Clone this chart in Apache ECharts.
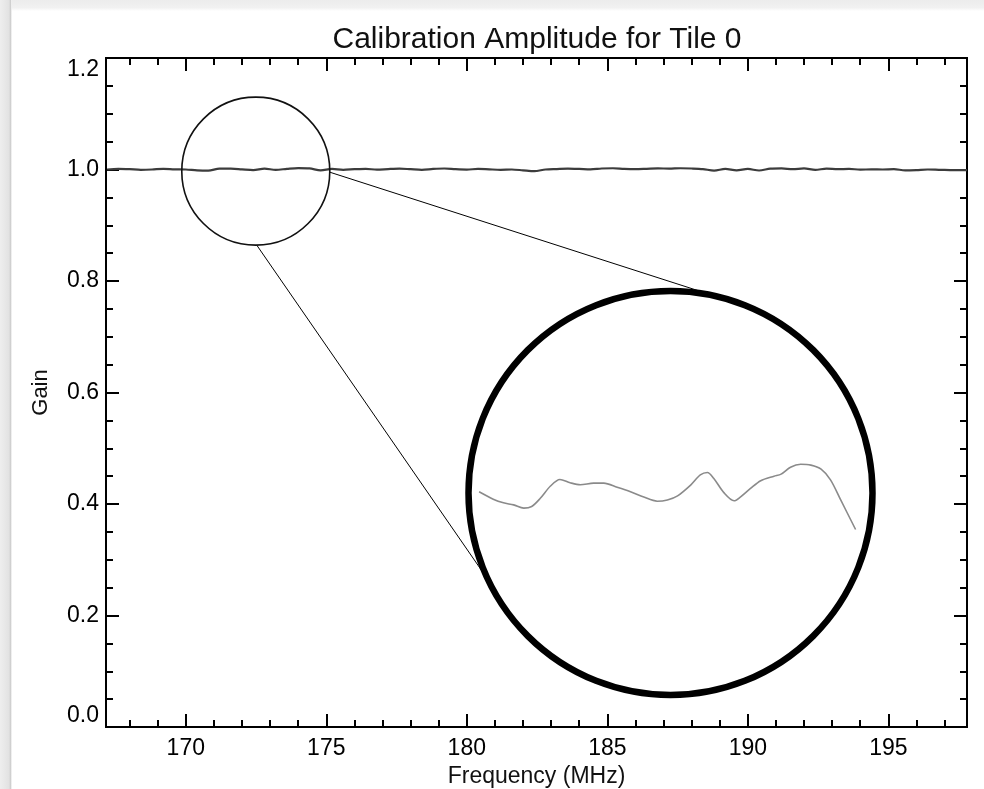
<!DOCTYPE html>
<html>
<head>
<meta charset="utf-8">
<script src="https://cdn.jsdelivr.net/npm/echarts@6/dist/echarts.min.js"></script>
<style>
html,body{margin:0;padding:0;background:#fff;}
#chart{width:984px;height:789px;}
</style>
</head>
<body>
<div id="chart"></div>
<script>
// ---- data ----
const freq = [167.2,167.6,168.0,168.4,168.8,169.2,169.6,170.0,170.4,170.8,171.2,171.6,172.0,172.4,172.8,173.2,173.6,174.0,174.4,174.8,175.2,175.6,176.0,176.4,176.8,177.2,177.6,178.0,178.4,178.8,179.2,179.6,180.0,180.4,180.8,181.2,181.6,182.0,182.4,182.8,183.2,183.6,184.0,184.4,184.8,185.2,185.6,186.0,186.4,186.8,187.2,187.6,188.0,188.4,188.8,189.2,189.6,190.0,190.4,190.8,191.2,191.6,192.0,192.4,192.8,193.2,193.6,194.0,194.4,194.8,195.2,195.6,196.0,196.4,196.8,197.2,197.6,197.8];
const gain = [1.0000,1.0010,1.0005,0.9995,1.0000,1.0012,1.0003,1.0000,0.9985,0.9980,1.0015,1.0015,1.0002,0.9990,1.0015,0.9995,1.0012,1.0025,1.0020,0.9985,1.0010,0.9995,1.0005,1.0012,0.9998,1.0008,1.0015,1.0005,0.9995,1.0010,1.0018,1.0005,0.9998,1.0010,1.0002,0.9995,1.0000,0.9985,0.9970,1.0000,1.0008,1.0015,1.0010,1.0002,1.0018,1.0022,1.0010,1.0005,1.0012,1.0020,1.0015,1.0022,1.0018,1.0008,0.9980,1.0010,0.9985,1.0010,0.9982,1.0015,1.0020,1.0005,1.0020,0.9995,1.0015,1.0005,1.0010,0.9998,1.0002,1.0000,1.0005,0.9985,0.9990,1.0000,0.9995,0.9990,0.9988,0.9990];

// zoomed-in view (inset)
const insetFreq = [170.05,170.23,170.36,170.49,170.62,170.72,170.83,170.96,171.08,171.21,171.34,171.51,171.64,171.81,171.98,172.15,172.32,172.45,172.58,172.75,172.87,172.96,173.04,173.17,173.30,173.38,173.51,173.64,173.81,173.90,174.02,174.15,174.28,174.41,174.53,174.66,174.85];
const insetGain = [1.0003,0.9985,0.9976,0.9971,0.9963,0.9967,0.9987,1.0017,1.0033,1.0025,1.0020,1.0024,1.0024,1.0014,1.0003,0.9990,0.9980,0.9983,0.9993,1.0020,1.0044,1.0050,1.0036,1.0001,0.9981,0.9990,1.0011,1.0030,1.0041,1.0046,1.0063,1.0070,1.0068,1.0058,1.0032,0.9983,0.9911];

const xMajorTicks = [170,175,180,185,190,195];
const xMinorTicks = [168,169,170,171,172,173,174,175,176,177,178,179,180,181,182,183,184,185,186,187,188,189,190,191,192,193,194,195,196,197];

const titleText = 'Calibration Amplitude for Tile 0';
const xName = 'Frequency (MHz)';
const yName = 'Gain';

// ---- chart ----
const FONT = '"Liberation Sans", Arial, Helvetica, sans-serif';
const chart = echarts.init(document.getElementById('chart'), null, {renderer:'canvas'});
const XMIN = 167.16, XMAX = 197.8;
const axisLine = {show:true, lineStyle:{color:'#000', width:2}};

function xAx(pos, ticks, len, labels){
  return {
    type:'value', gridIndex:0, position:pos, min:XMIN, max:XMAX,
    axisLine: axisLine,
    axisTick:{show:true, inside:true, length:len, customValues:ticks, lineStyle:{color:'#000', width:2}},
    axisLabel: labels ? {show:true, customValues:ticks, color:'#000', fontSize:23, fontFamily:FONT, margin:10,
      formatter: v => String(Math.round(v))} : {show:false},
    splitLine:{show:false}
  };
}
const xMain = xAx('bottom', xMajorTicks, 13, true);
xMain.name = xName; xMain.nameLocation = 'middle'; xMain.nameGap = 36;
xMain.nameTextStyle = {color:'#111', fontSize:23, fontFamily:FONT};

function yAx(pos, labels){
  return {
    type:'value', gridIndex:0, position:pos, min:0, max:1.2, interval:0.2,
    axisLine: axisLine,
    axisTick:{show:true, inside:true, length:13, lineStyle:{color:'#000', width:2}},
    minorTick:{show:true, splitNumber:4, length:7, lineStyle:{color:'#000', width:2}},
    axisLabel: labels ? {show:true, color:'#000', fontSize:23, fontFamily:FONT, margin:7,
      formatter: v => v.toFixed(1), verticalAlignMinLabel:'bottom', verticalAlignMaxLabel:'top'} : {show:false},
    splitLine:{show:false}, minorSplitLine:{show:false}
  };
}
const yMain = yAx('left', true);
yMain.name = yName; yMain.nameLocation = 'middle'; yMain.nameGap = 54;
yMain.nameTextStyle = {color:'#111', fontSize:22, fontFamily:FONT};

const option = {
  backgroundColor:'#fff',
  animation:false,
  title:{text:titleText, left:532, top:20, textAlign:'center',
    textStyle:{color:'#111', fontSize:30, fontWeight:'normal', fontFamily:FONT}},
  grid:[
    {left:106, top:58, right:17, bottom:62, containLabel:false, outerBoundsMode:'none'},
    {left:465, top:288, width:411, height:410, containLabel:false, outerBoundsMode:'none'}
  ],
  xAxis:[
    xMain,
    xAx('bottom', xMinorTicks, 7, false),
    xAx('top', xMajorTicks, 13, false),
    xAx('top', xMinorTicks, 7, false),
    {type:'value', gridIndex:1, min:169.87, max:175.11, show:false}
  ],
  yAxis:[
    yMain,
    yAx('right', false),
    {type:'value', gridIndex:1, min:0.95, max:1.05, show:false}
  ],
  series:[
    {type:'line', xAxisIndex:0, yAxisIndex:0, data:freq.map((f,i)=>[f,gain[i]]),
      showSymbol:false, smooth:0.3, lineStyle:{color:'#3c3c3c', width:2.2}, z:3},
    {type:'line', xAxisIndex:4, yAxisIndex:2, data:insetFreq.map((f,i)=>[f,insetGain[i]]),
      showSymbol:false, smooth:0.3, lineStyle:{color:'#8a8a8a', width:1.6}, z:3}
  ]
};
chart.setOption(option);

// annotation: magnifier circles and connectors
const cs = chart.convertToPixel({xAxisIndex:0, yAxisIndex:0}, [172.49, 0.997]);
const cb = chart.convertToPixel({xAxisIndex:4, yAxisIndex:2}, [172.49, 1.0]);
const rs = 74, rb = 202;
chart.setOption({
  graphic:[
    {type:'rect', silent:true, z:0, shape:{x:0,y:0,width:984,height:11},
      style:{fill:new echarts.graphic.LinearGradient(0,0,0,1,[{offset:0,color:'#ececec'},{offset:0.7,color:'#f1f1f1'},{offset:1,color:'#ffffff'}])}},
    {type:'rect', silent:true, z:0, shape:{x:0,y:0,width:12,height:789},
      style:{fill:new echarts.graphic.LinearGradient(0,0,1,0,[{offset:0,color:'#eeeeee'},{offset:0.75,color:'#e2e2e2'},{offset:0.88,color:'#cfcfcf'},{offset:1,color:'#ffffff'}])}},
    {type:'line', silent:true, z:5, shape:{x1:cs[0]+rs, y1:cs[1]+1, x2:cb[0]+35, y2:cb[1]-200},
      style:{stroke:'#000', lineWidth:1}},
    {type:'line', silent:true, z:5, shape:{x1:cs[0]+1, y1:cs[1]+rs, x2:cb[0]-183, y2:cb[1]+86},
      style:{stroke:'#000', lineWidth:1}},
    {type:'circle', silent:true, z:6, shape:{cx:cs[0], cy:cs[1], r:rs},
      style:{fill:null, stroke:'#111', lineWidth:1.6}},
    {type:'circle', silent:true, z:6, shape:{cx:cb[0], cy:cb[1], r:rb},
      style:{fill:null, stroke:'#000', lineWidth:6.5}}
  ]
});
</script>
</body>
</html>
